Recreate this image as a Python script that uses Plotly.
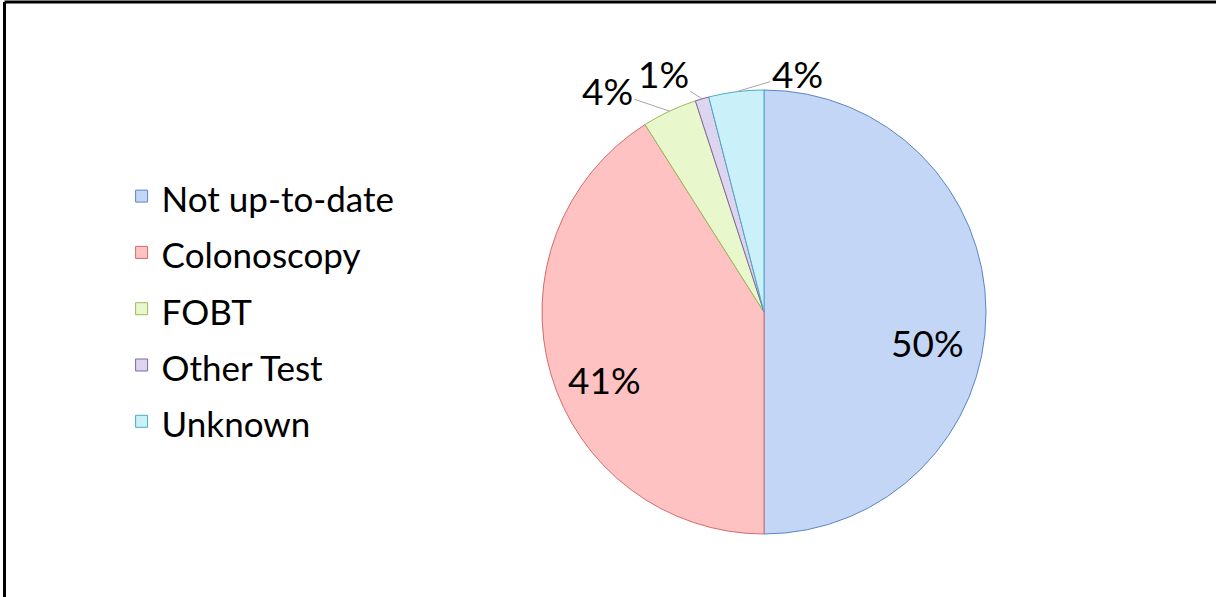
import math
import plotly.graph_objects as go

# Screening status shares (percent)
categories = ["Not up-to-date", "Colonoscopy", "FOBT", "Other Test", "Unknown"]
shares = [50, 41, 4, 1, 4]

fill_colors = ["#c4d6f6", "#ffc2c2", "#e8f8cc", "#ddd5ef", "#caf0fa"]
edge_colors = ["#5b86c4", "#d46a6a", "#9bbb59", "#8064a2", "#4bacc6"]

W, H = 1216, 597
# pie placement (pixels from top-left) and radius
CX, CY, R = 764, 312, 222

# Label placement per slice: ("inside", radial factor, dx, dy) or ("callout", ax, ay)
label_style = [
    ("inside", 0.75, -3, 30),
    ("inside", 0.75, 0, 21),
    ("callout", -62, -21),
    ("callout", -39, -25),
    ("callout", 61, -18),
]

fig = go.Figure(
    go.Pie(
        labels=[f'<span style="font-size:35px">{c}</span>' for c in categories],
        values=shares,
        sort=False,
        direction="clockwise",
        rotation=0,
        textinfo="none",
        marker=dict(colors=fill_colors, line=dict(color=edge_colors, width=1)),
        domain=dict(
            x=[(CX - R) / W, (CX + R) / W],
            y=[1 - (CY + R) / H, 1 - (CY - R) / H],
        ),
        hovertemplate="%{value}%<extra></extra>",
    )
)

# Percentage labels positioned from each slice's mid angle
total = sum(shares)
annotations = []
start = 0.0
for share, style in zip(shares, label_style):
    mid = (start + share / 2) / total * 2 * math.pi
    start += share
    sx, sy = math.sin(mid), -math.cos(mid)
    text = f"{share}%"
    font = dict(family="Lato", size=37, color="#000000")
    if style[0] == "inside":
        _, k, dx, dy = style
        px, py = CX + k * R * sx + dx, CY + k * R * sy + dy
        annotations.append(dict(x=px / W, y=1 - py / H, xref="paper", yref="paper",
                                xanchor="center", yanchor="middle",
                                text=text, showarrow=False, font=font))
    else:
        _, ax, ay = style
        px, py = CX + R * sx, CY + R * sy
        annotations.append(dict(x=px / W, y=1 - py / H, xref="paper", yref="paper",
                                text=text, showarrow=True, arrowhead=0, arrowwidth=1,
                                arrowcolor="#a6a6a6", ax=ax, ay=ay, standoff=0,
                                font=font))

fig.update_layout(
    width=W,
    height=H,
    margin=dict(l=0, r=0, t=0, b=0),
    paper_bgcolor="#ffffff",
    plot_bgcolor="#ffffff",
    showlegend=True,
    legend=dict(
        x=0.100,
        y=0.4825,
        xanchor="left",
        yanchor="middle",
        font=dict(family="Lato", size=41, color="#000000"),
        bgcolor="rgba(0,0,0,0)",
    ),
    annotations=annotations,
    shapes=[
        dict(type="line", xref="paper", yref="paper", x0=0.0037, x1=1, y0=0.9966, y1=0.9966,
             line=dict(color="#000000", width=3)),
        dict(type="line", xref="paper", yref="paper", x0=0.0037, x1=0.0037, y0=0, y1=0.9966,
             line=dict(color="#000000", width=3)),
    ],
)

fig.write_html("out.html")
